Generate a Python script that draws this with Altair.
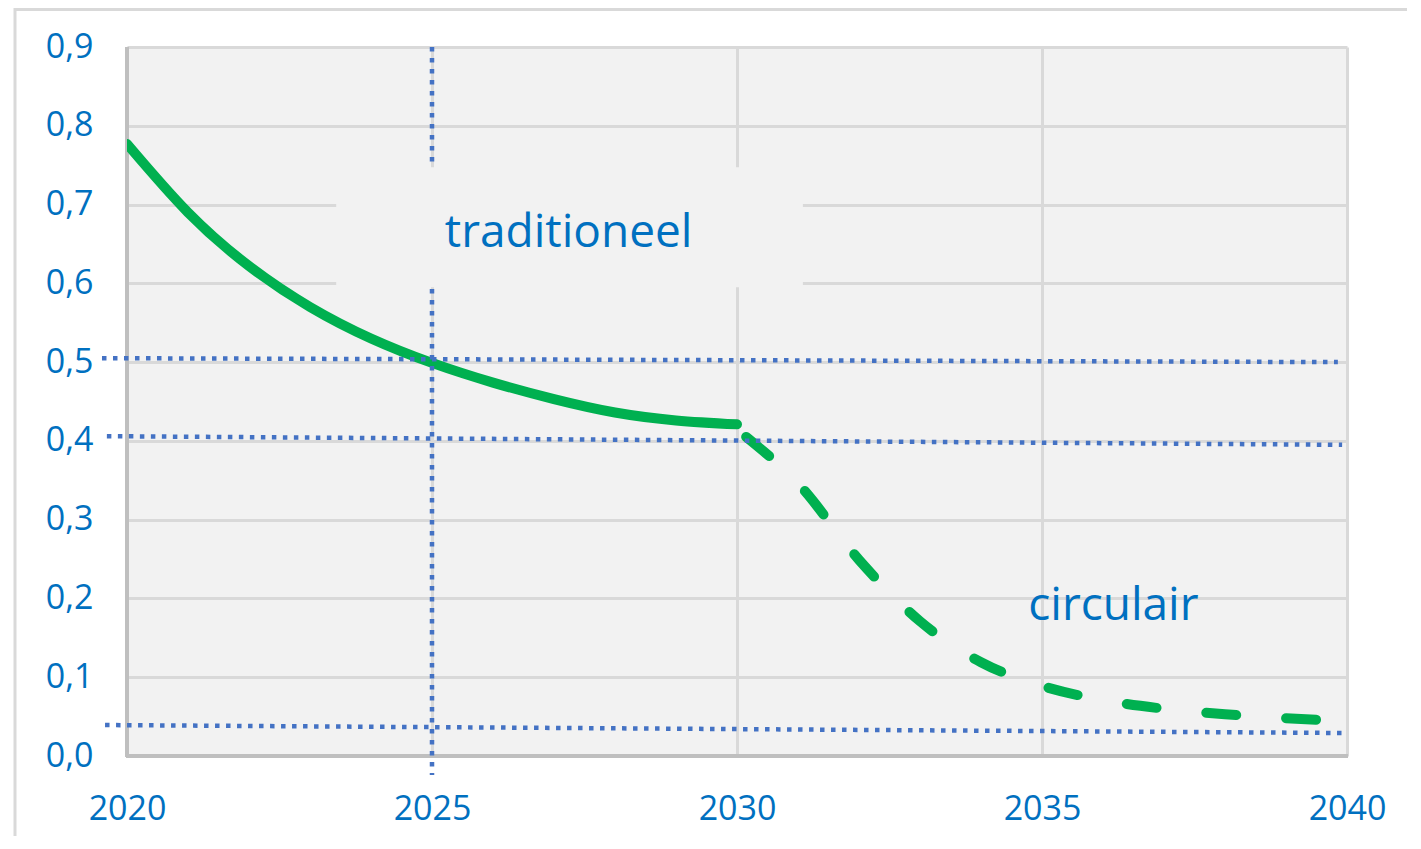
import altair as alt
import pandas as pd

# ---- data ----
solid_years = [2020, 2021, 2022, 2023, 2024, 2025, 2026, 2027, 2028, 2029, 2030]
solid_vals = [0.777, 0.690, 0.622, 0.570, 0.530, 0.499, 0.474, 0.453, 0.436, 0.426, 0.421]

dashed_years = [2030.15, 2031, 2032, 2033, 2034, 2035, 2036, 2037, 2038, 2039, 2039.52]
dashed_vals = [0.405, 0.346, 0.249, 0.171, 0.119, 0.089, 0.071, 0.060, 0.053, 0.048, 0.046]

# dotted guide lines (start / end)
guide_x1 = [2025.0, 2019.59, 2019.67, 2019.64]
guide_x2 = [2025.0, 2039.85, 2039.92, 2039.92]
guide_y1 = [0.9, 0.505, 0.406, 0.0393]
guide_y2 = [-0.024, 0.500, 0.395, 0.0292]

# label box and labels
box_x1, box_x2 = [2023.43], [2031.08]
box_y1, box_y2 = [0.7475], [0.595]
label_text = ["traditioneel", "circulair"]
label_x = [2027.24, 2036.17]
label_y = [0.646, 0.1726]

x_ticks = [2020, 2025, 2030, 2035, 2040]
y_ticks = [0.0, 0.1, 0.2, 0.3, 0.4, 0.5, 0.6, 0.7, 0.8, 0.9]

W, H = 1220, 709
PAD = {"left": 119, "top": 39, "right": 60, "bottom": 80}

BLUE_TXT = "#0070c0"
GREEN = "#00b050"
DOT = "#4472c4"
GRID = "#d9d9d9"
BG = "#f2f2f2"
FONT = "Open Sans"

xs = alt.Scale(domain=[2020, 2040], nice=False, zero=False)
ys = alt.Scale(domain=[0, 0.9], nice=False, zero=False)

x_axis = alt.Axis(values=x_ticks, format="d", title=None, grid=True, gridColor=GRID,
                  gridWidth=3, domain=False, ticks=False, labelPadding=36,
                  labelFlush=False, labelOverlap=False,
                  labelFont=FONT, labelFontSize=34, labelColor=BLUE_TXT)
y_axis = alt.Axis(values=y_ticks, title=None, grid=True, gridColor=GRID, gridWidth=3,
                  domain=False, ticks=False, labelPadding=34,
                  labelFlush=False, labelOverlap=False,
                  labelExpr="replace(format(datum.value, '.1f'), '.', ',')",
                  labelFont=FONT, labelFontSize=34, labelColor=BLUE_TXT)


def X(field):
    return alt.X(field, type="quantitative", scale=xs, axis=x_axis)


def Y(field):
    return alt.Y(field, type="quantitative", scale=ys, axis=y_axis)


solid_df = pd.DataFrame({"year": solid_years, "val": solid_vals})
dashed_df = pd.DataFrame({"year": dashed_years, "val": dashed_vals})
guide_df = pd.DataFrame({"x1": guide_x1, "x2": guide_x2, "y1": guide_y1, "y2": guide_y2})
box_df = pd.DataFrame({"x1": box_x1, "x2": box_x2, "y1": box_y1, "y2": box_y2})
label_df = pd.DataFrame({"t": label_text, "x": label_x, "y": label_y})

base_dummy = pd.DataFrame({"a": [0]})

# plot borders (left & bottom darker)
left_border = alt.Chart(base_dummy).mark_rule(color="#bfbfbf", strokeWidth=4).encode(
    x=alt.value(0), y=alt.value(0), y2=alt.value(H + 1))
bottom_border = alt.Chart(base_dummy).mark_rule(color="#bfbfbf", strokeWidth=4).encode(
    x=alt.value(-1), x2=alt.value(W + 1), y=alt.value(H))

solid = alt.Chart(solid_df).mark_line(color=GREEN, strokeWidth=10, strokeCap="round",
                                      interpolate="natural", clip=True).encode(
    x=X("year"), y=Y("val"))
dashed = alt.Chart(dashed_df).mark_line(color=GREEN, strokeWidth=10, strokeCap="round",
                                        strokeDash=[30, 50], interpolate="monotone").encode(
    x=X("year"), y=Y("val"))

guides = alt.Chart(guide_df).mark_rule(color=DOT, strokeWidth=4.5, strokeDash=[4.5, 6.5],
                                       strokeCap="butt").encode(
    x=X("x1"), x2="x2", y=Y("y1"), y2="y2")

box = alt.Chart(box_df).mark_rect(color=BG).encode(
    x=X("x1"), x2="x2", y=Y("y1"), y2="y2")

labels = alt.Chart(label_df).mark_text(font=FONT, fontSize=46, color=BLUE_TXT,
                                       align="center", baseline="alphabetic").encode(
    x=X("x"), y=Y("y"), text="t:N")

# outer frame of the screenshot
frame_left = alt.Chart(base_dummy).mark_rule(color="#d9d9d9", strokeWidth=3).encode(
    x=alt.value(-112), y=alt.value(-PAD["top"]), y2=alt.value(H + PAD["bottom"]))
frame_top = alt.Chart(base_dummy).mark_rule(color="#d9d9d9", strokeWidth=3).encode(
    x=alt.value(-112), x2=alt.value(W + PAD["right"]), y=alt.value(-PAD["top"] + 1.5))

chart = alt.layer(
    left_border, bottom_border, solid, dashed, guides, box, labels, frame_left, frame_top
).properties(
    width=W, height=H, padding=PAD, autosize=alt.AutoSizeParams(type="none"),
    background="white"
).configure_view(fill=BG, stroke=None)

chart.save("out.html", embed_options={"renderer": "svg", "actions": False})
